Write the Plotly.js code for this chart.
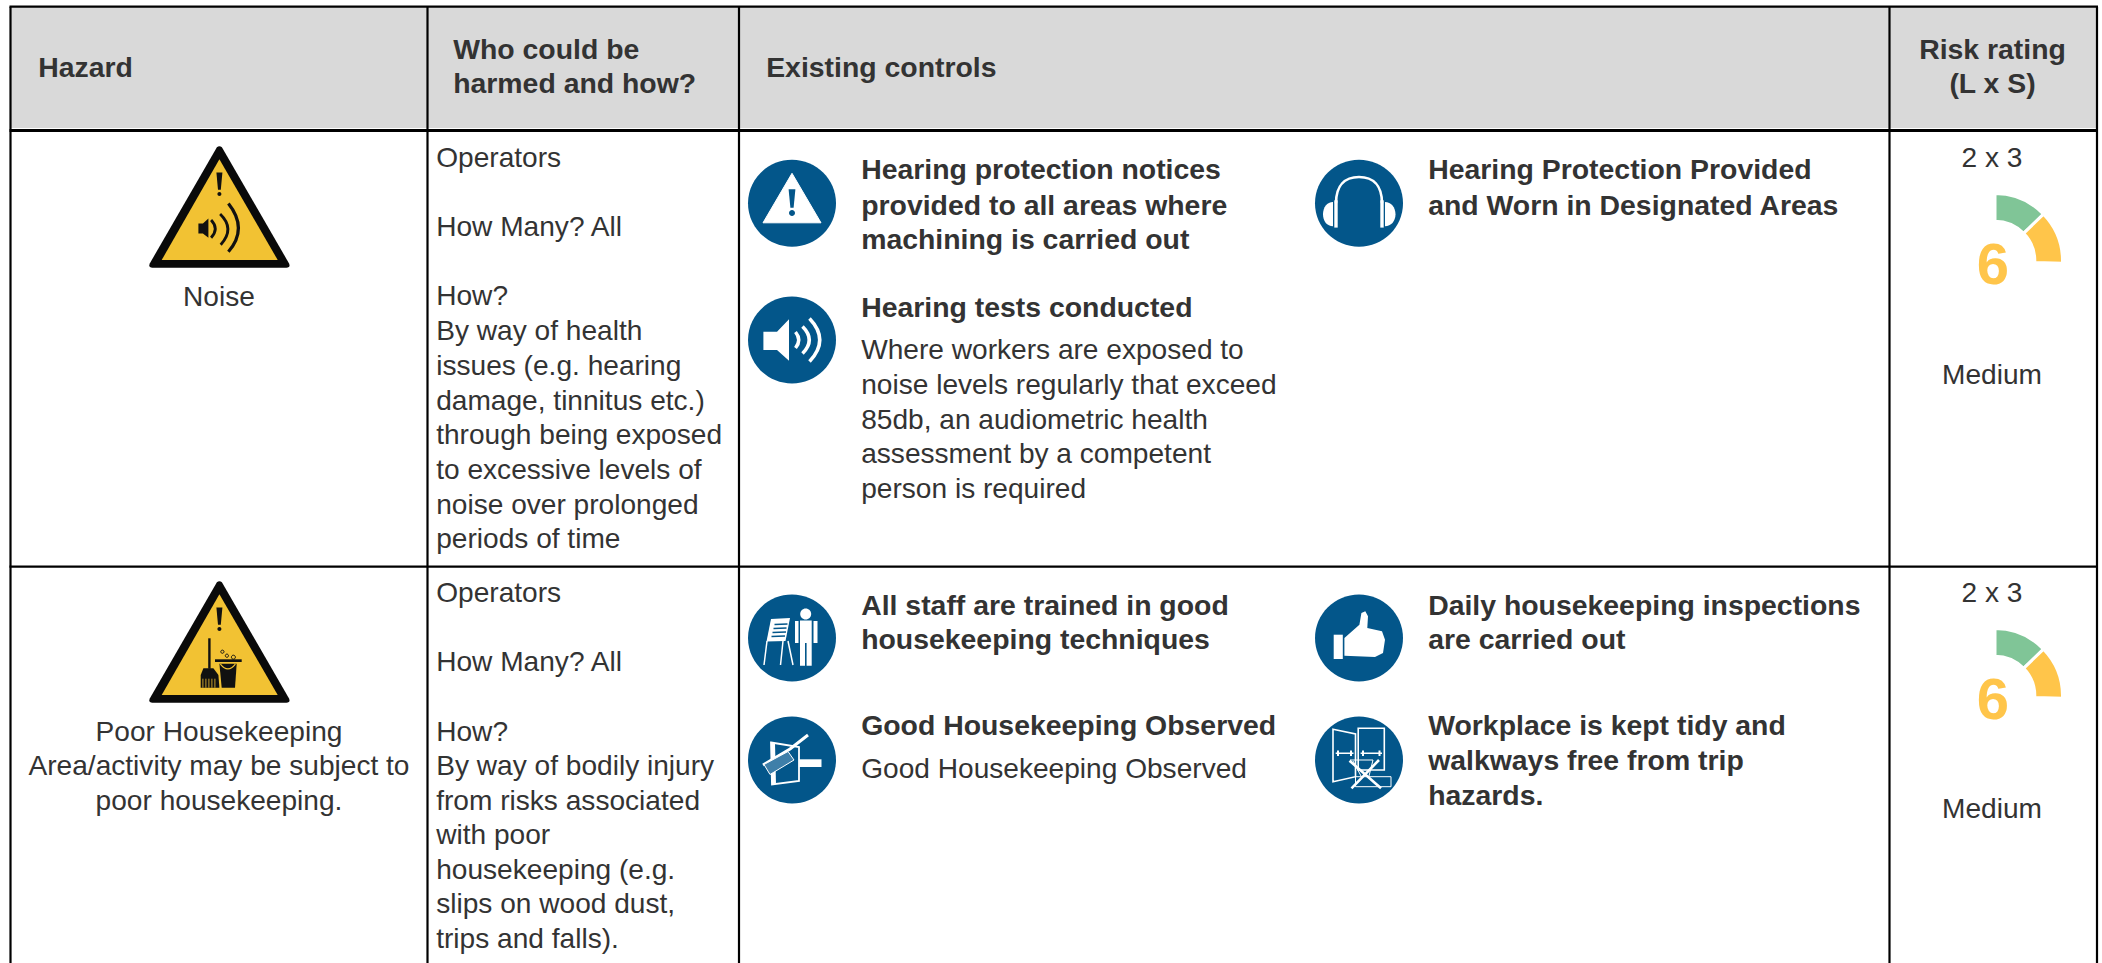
<!DOCTYPE html>
<html>
<head>
<meta charset="utf-8">
<script src="https://cdn.plot.ly/plotly-3.0.1.min.js"></script>
<style>html,body{margin:0;padding:0;background:#fff}#chart{width:2102px;height:963px}</style>
</head>
<body>
<div id="chart"></div>
<script>
// ---------- chart content ----------
const headerLabels = ["Hazard", "Who could be", "harmed and how?", "Existing controls", "Risk rating", "(L x S)"];
const noiseHazard = ["Noise"];
const noiseWho = ["Operators", "How Many? All", "How?", "By way of health", "issues (e.g. hearing", "damage, tinnitus etc.)", "through being exposed", "to excessive levels of", "noise over prolonged", "periods of time"];
const noiseControlsBold = ["Hearing protection notices", "provided to all areas where", "machining is carried out", "Hearing tests conducted", "Hearing Protection Provided", "and Worn in Designated Areas"];
const noiseControlsText = ["Where workers are exposed to", "noise levels regularly that exceed", "85db, an audiometric health", "assessment by a competent", "person is required"];
const houseHazard = ["Poor Housekeeping", "Area/activity may be subject to", "poor housekeeping."];
const houseWho = ["Operators", "How Many? All", "How?", "By way of bodily injury", "from risks associated", "with poor", "housekeeping (e.g.", "slips on wood dust,", "trips and falls)."];
const houseControlsBold = ["All staff are trained in good", "housekeeping techniques", "Good Housekeeping Observed", "Daily housekeeping inspections", "are carried out", "Workplace is kept tidy and", "walkways free from trip", "hazards."];
const houseControlsText = ["Good Housekeeping Observed"];
const riskFactors = ["2 x 3", "2 x 3"];
const riskScores = ["6", "6"];
const riskLabels = ["Medium", "Medium"];
const gaugeSectors = [46, 46, 268];

// ---------- styling and layout ----------
const W = 2102, H = 963;
const FONT = "Liberation Sans, Arial, sans-serif", FS = 28.1, FS_B = 28.4, INK = "#333333";
const BLUE = "#03568a", YEL = "#f2c233", GREEN = "#80c597", AMBER = "#ffc54a", GREY = "#d9d9d9";
const C_LEFT = 10.5, C1 = 427.5, C2 = 739, C3 = 1889.5, C_RIGHT = 2097;
const Y_TOP = 6.7, Y_HEAD = 130.5, Y_ROW = 566.7;
const DY = 435, YADJ = 2.6;

const traces = [];
function txt(lines, x, ys, opt) {
  opt = opt || {};
  traces.push({
    type: "scatter", mode: "text", x: lines.map(() => x), y: ys.map(v => v + YADJ), text: lines,
    textposition: opt.center ? "middle center" : "middle right",
    textfont: { family: FONT, size: opt.size || (opt.bold ? FS_B : FS), color: opt.color || INK, weight: opt.bold ? 700 : 400 },
    hoverinfo: "skip", showlegend: false, cliponaxis: false
  });
}
const XADJ = -0.8;
// header
txt(headerLabels.slice(0, 1), 39 + XADJ, [67], { bold: true });
txt(headerLabels.slice(1, 3), 454 + XADJ, [49.5, 83], { bold: true });
txt(headerLabels.slice(3, 4), 767 + XADJ, [67], { bold: true });
txt(headerLabels.slice(4, 6), 1992.5, [49.5, 83], { bold: true, center: true });
// row 1
txt(noiseHazard, 219, [296], { center: true });
txt(noiseWho, 437 + XADJ, [157, 226, 295.5, 330, 365, 400, 434.5, 469, 504, 538]);
txt(noiseControlsBold.slice(0, 4), 862 + XADJ, [169, 205, 239, 307], { bold: true });
txt(noiseControlsText, 862 + XADJ, [349, 384, 419, 453, 488]);
txt(noiseControlsBold.slice(4, 6), 1429 + XADJ, [169, 205], { bold: true });
// row 2
txt(houseHazard, 219, [731, 765.5, 800], { center: true });
txt(houseWho, 437 + XADJ, [592, 661, 731, 765.5, 800, 834.5, 869, 903.5, 938]);
txt(houseControlsBold.slice(0, 3), 862 + XADJ, [605, 639, 725], { bold: true });
txt(houseControlsText, 862 + XADJ, [768]);
txt(houseControlsBold.slice(3, 8), 1429 + XADJ, [605, 639, 725, 760, 795], { bold: true });
// risk column
txt(riskFactors, 1992, [157, 592], { center: true });
txt(riskLabels, 1992, [374, 808], { center: true });
txt(riskScores, 1993, [266.5, 266.5 + DY], { center: true, bold: true, size: 58, color: AMBER });
// gauges, drawn as partial pies
[0, DY].forEach(off => {
  const cx = 1995, cy = 261 + off, R = 67.5;
  traces.push({
    type: "pie", values: gaugeSectors, sort: false, direction: "clockwise", rotation: 0, hole: 0.59,
    domain: { x: [(cx - R) / W, (cx + R) / W], y: [1 - (cy + R) / H, 1 - (cy - R) / H] },
    marker: { colors: [GREEN, AMBER, "rgba(255,255,255,0)"], line: { color: "#ffffff", width: [3, 3, 0] } },
    textinfo: "none", hoverinfo: "skip", showlegend: false
  });
});

// ---------- path helpers (local icon drawing units are pixels around an origin) ----------
function circ(x, y, r, ry) {
  ry = ry || r; const k = 0.5523;
  return `M ${x - r} ${y} C ${x - r} ${y - k * ry} ${x - k * r} ${y - ry} ${x} ${y - ry} C ${x + k * r} ${y - ry} ${x + r} ${y - k * ry} ${x + r} ${y} C ${x + r} ${y + k * ry} ${x + k * r} ${y + ry} ${x} ${y + ry} C ${x - k * r} ${y + ry} ${x - r} ${y + k * ry} ${x - r} ${y} Z`;
}
function shift(d, ox, oy) {
  let i = 0;
  return d.replace(/-?\d+(\.\d+)?/g, m => { const v = parseFloat(m) + (i++ % 2 === 0 ? ox : oy); return v.toFixed(2); });
}
const shapes = [];
function add(d, fill, line, width) {
  shapes.push({
    type: "path", xref: "x", yref: "y", path: d, layer: "above",
    fillcolor: fill || "rgba(0,0,0,0)",
    line: { color: line || "rgba(0,0,0,0)", width: line ? (width || 1) : 0 }
  });
}
function draw(parts, ox, oy) { parts.forEach(p => add(shift(p[0], ox, oy), p[1], p[2], p[3])); }

const WH = "#ffffff";
const iconWarning = [
  ["M 0 -30 L -29 19.5 L 29 19.5 Z", WH, WH, 1],
  ["M -3.4 -14 L 3.4 -14 L 1.6 4.5 L -1.6 4.5 Z", BLUE],
  [circ(0, 9.8, 3), BLUE]
];
const iconSpeaker = [
  ["M -28.6 -8.3 L -15 -8.3 L -3 -20.7 L -3 20.7 L -15 10 L -28.6 10 Z", WH],
  ["M 3.5 -8 Q 10 0 3.5 8", null, WH, 3.5],
  ["M 10.5 -13.5 Q 24 0 10.5 13.5", null, WH, 3.5],
  ["M 17.5 -21.5 Q 38 0 17.5 21.5", null, WH, 3.5]
];
const iconHeadphones = [
  ["M -23 0 C -23 -18 -14 -26.3 0 -26.3 C 14 -26.3 23 -18 23 0", null, WH, 2.6],
  ["M -24.7 -3 L -21.3 -3 L -21.3 24.3 L -24.7 24.3 Z", WH],
  ["M 21.3 -3 L 24.7 -3 L 24.7 24.3 L 21.3 24.3 Z", WH],
  ["M -26 -1.3 C -32 -1.3 -36 4 -36 11 C -36 18 -32 23 -26 23 Z", WH],
  ["M 26 -1.3 C 32 -1.3 36.5 4 36.5 11 C 36.5 18 32 23 26 23 Z", WH]
];
const iconTraining = [
  [circ(13.7, -24, 5.5), WH],
  ["M 8 -17.5 L 19.7 -17.5 L 19.7 27.7 L 14.6 27.7 L 14.6 5 L 13 5 L 13 27.7 L 8 27.7 Z", WH],
  ["M 3 -17 L 6.5 -17 L 6.5 5 L 3 5 Z", WH],
  ["M 21.5 -17 L 25.5 -17 L 25.5 5 L 21.5 5 Z", WH],
  ["M -21 -19 L -2 -20 L -6.5 3 L -25.5 3.5 Z", WH],
  ["M -17.5 -13.5 L -4.5 -14 M -18.5 -9.5 L -5.5 -10 M -19.5 -5.5 L -6 -6 M -20.5 -1.5 L -7 -2", null, BLUE, 1.3],
  ["M -25 3 L -28 27 M -9 3 L -11.5 27 M -4 3 L 1 27", null, WH, 1.5]
];
const iconBroom = [
  ["M -21 -17.5 L 7 -13 L 7 21 L -20 24.5 Z", null, WH, 1.8],
  ["M -21 -17.5 L -17 -16.8 L -16 24 L -20 24.5 Z", WH],
  ["M 7 -0.7 L 29.5 -0.7 L 29.5 7 L 7 7 Z", WH],
  ["M -29 5 L -2 -11 L 16 -25", null, WH, 3],
  ["M -28 4.5 L -4 -8.5 L 2 0 L -22 14.5 Z", "#3f7fa9", WH, 1]
];
const iconThumb = [
  ["M -25.3 -3.3 L -16.2 -3.3 L -16.2 21 L -25.3 21 Z", WH],
  ["M -14.6 0 L 0.4 -13.3 L 2.4 -25 L 6.3 -26.7 L 9 -21.7 L 8.3 -10 L 23 -6.7 L 26 1.7 L 24 15 L 16 19 L -14.6 17.7 Z", WH]
];
const iconDoors = [
  ["M -26 -30.7 L -3.5 -26 L -3.5 16.7 L -26 21.7 Z", null, WH, 1.6],
  ["M -0.8 -31.7 L 25.3 -31.7 L 25.3 10 L -0.8 10 Z", null, WH, 1.6],
  ["M -23.3 -6.7 L -5.5 -6.7 M 1.6 -6.7 L 23 -6.7", null, WH, 1.5],
  ["M -21 -9.5 L -21 -4 M -8 -9.5 L -8 -4 M 4 -9.5 L 4 -4 M 20.5 -9.5 L 20.5 -4", null, WH, 2],
  ["M -3.5 16.7 L 32 16.7 L 32 26.7 L -3.5 26.7 Z", null, WH, 1],
  ["M -9 0 L 14 0 L 10 16 M -6 1 L 2 16", null, WH, 1],
  ["M -9.5 0.7 L 22 28.3 M 20 0 L -7.5 28.3", null, WH, 2.6]
];
const triangleOutline = ["M -2.5 0.5 Q 0 -1.5 2.5 0.5 L 69.5 116.5 Q 71.5 121 67 121 L -67 121 Q -71.5 121 -69.5 116.5 Z", "#0a0a0a"];
const triangleFill = ["M 0 12.5 L -57.7 113.3 L 58.3 113.3 Z", YEL];
const exclaim = [["M -3 25.7 L 3 25.7 L 1.4 43 L -1.4 43 Z", "#111111"], [circ(0, 47.2, 2), "#111111"]];
const signNoise = [triangleOutline, triangleFill, ...exclaim,
  ["M -21 76.7 L -16.5 76.7 L -11 71.7 L -11 91 L -16.5 86.7 L -21 86.7 Z", "#111111"],
  ["M -8.3 73.3 Q 0 82 -8.3 91", null, "#111111", 2.8],
  ["M 0.7 67.3 Q 16 82 1.3 98", null, "#111111", 2.8],
  ["M 9 56.7 Q 29 81.7 9 105", null, "#111111", 3.2]
];
const signBroom = [triangleOutline, triangleFill, ...exclaim,
  ["M -10 56.6 L -10 87", null, "#111111", 2.4],
  ["M -18.7 93.3 L -16 86.6 L -6 86.6 L -1 93.3 L 0 106 L -18.7 106 Z", "#111111"],
  ["M -16.5 97 L -16.5 106 M -13.5 97 L -13.5 106 M -10.5 97 L -10.5 106 M -7.5 97 L -7.5 106 M -4.5 97 L -4.5 106", null, YEL, 0.8],
  ["M 0 82 L 17.3 82 L 15.6 106 L 2.3 106 Z", "#111111"],
  ["M -4.4 77.6 L 22.3 77.6 L 22.3 80.3 L -4.4 80.3 Z", "#111111"],
  ["M 1 82.5 Q 8.5 92 16 82.5", null, YEL, 1.2],
  [circ(3, 70, 1.6), null, "#111111", 1],
  [circ(7.5, 74, 1.6), null, "#111111", 1],
  [circ(14, 75.5, 2), null, "#111111", 1]
];

function rect(x0, y0, x1, y1, fill) {
  shapes.push({ type: "rect", xref: "x", yref: "y", x0, y0, x1, y1, layer: "below", fillcolor: fill, line: { width: 0 } });
}
function rule(x0, y0, x1, y1, w) {
  shapes.push({ type: "line", xref: "x", yref: "y", x0, y0, x1, y1, layer: "above", line: { color: "#000000", width: w } });
}
rect(C_LEFT, Y_TOP, C_RIGHT, 128, GREY);
rule(C_LEFT - 1, Y_TOP, C_RIGHT + 1, Y_TOP, 2.2);
rule(C_LEFT - 1, Y_HEAD, C_RIGHT + 1, Y_HEAD, 3);
rule(C_LEFT - 1, Y_ROW, C_RIGHT + 1, Y_ROW, 2.2);
[C_LEFT, C1, C2, C3, C_RIGHT].forEach(x => rule(x, Y_TOP, x, H, 2.2));

const badges = [
  [iconWarning, 792, 203.3], [iconSpeaker, 792, 340], [iconHeadphones, 1359, 203.3],
  [iconTraining, 792, 638], [iconBroom, 792, 760], [iconThumb, 1359, 638], [iconDoors, 1359, 760]
];
badges.forEach(b => {
  add(circ(b[1], b[2], 44, 43.5), BLUE);
  draw(b[0], b[1], b[2]);
});
draw(signNoise, 219.4, 146.7);
draw(signBroom, 219.4, 146.7 + DY);

const layout = {
  width: W, height: H, autosize: false,
  margin: { l: 0, r: 0, t: 0, b: 0, pad: 0 },
  paper_bgcolor: "#ffffff", plot_bgcolor: "#ffffff",
  xaxis: { range: [0, W], visible: false, fixedrange: true },
  yaxis: { range: [H, 0], visible: false, fixedrange: true },
  showlegend: false, hovermode: false, shapes
};
Plotly.newPlot("chart", traces, layout, { displayModeBar: false, staticPlot: true });
</script>
</body>
</html>
